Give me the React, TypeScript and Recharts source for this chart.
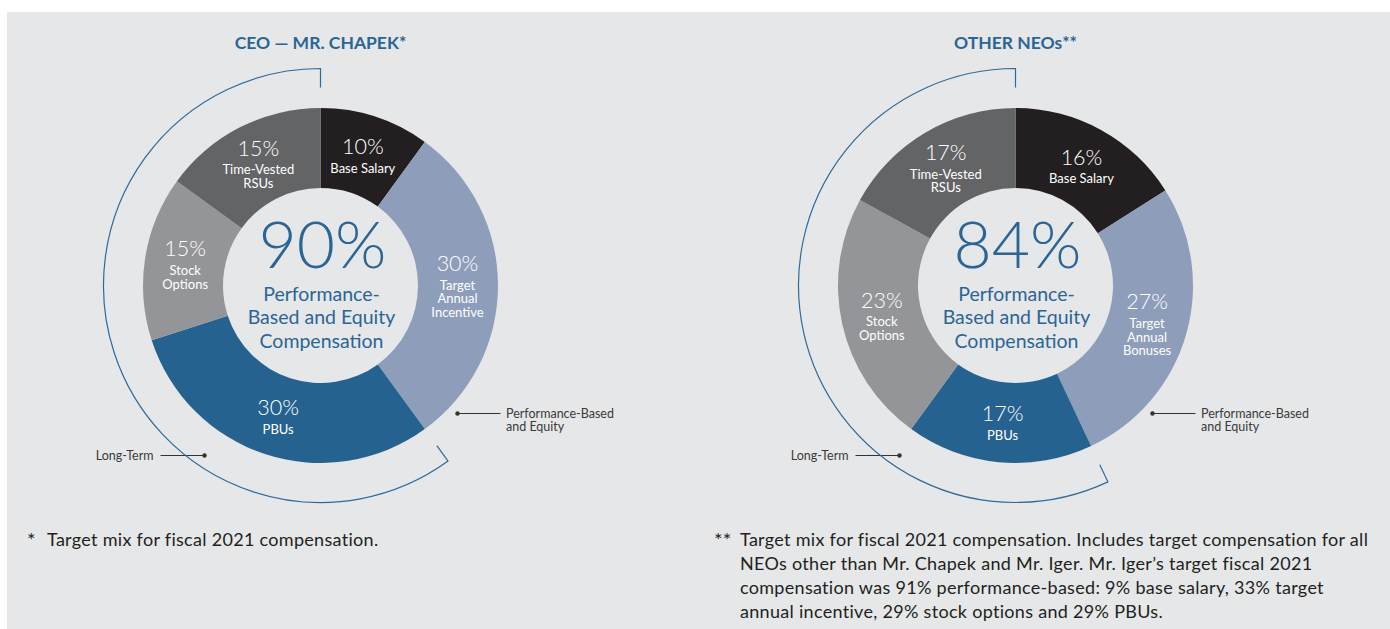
import React from 'react';
import { PieChart, Pie, Cell } from 'recharts';

// slice order runs clockwise from 12 o'clock
const segmentNames = ['Base Salary', 'Target Annual Incentive', 'PBUs', 'Stock Options', 'Time-Vested RSUs'];
const segmentColors = ['#231f20', '#8d9dba', '#25628f', '#939598', '#636466'];

const ceoValues = [10, 30, 30, 15, 15];
const ceoLabels = [['Base Salary'], ['Target', 'Annual', 'Incentive'], ['PBUs'], ['Stock', 'Options'], ['Time-Vested', 'RSUs']];
const ceoLongTerm = [60, 40]; // long-term equity vs rest
const ceoHeadline = '90%';

const neoValues = [16, 27, 17, 23, 17];
const neoLabels = [['Base Salary'], ['Target', 'Annual', 'Bonuses'], ['PBUs'], ['Stock', 'Options'], ['Time-Vested', 'RSUs']];
const neoLongTerm = [57, 43];
const neoHeadline = '84%';

const centerLines = ['Performance-', 'Based and Equity', 'Compensation'];

const neoFootnote = [
  'Target mix for fiscal 2021 compensation. Includes target compensation for all',
  'NEOs other than Mr. Chapek and Mr. Iger. Mr. Iger\u2019s target fiscal 2021',
  'compensation was 91% performance-based: 9% base salary, 33% target',
  'annual incentive, 29% stock options and 29% PBUs.',
];

const FONT = 'Lato, "Noto Sans", sans-serif';
const BLUE = '#2b6596';
const RAD = Math.PI / 180;
const CX = 320.5;
const CY = 285.5;

const sliceLabel = (lines: string[][]) => (props: any) => {
  const { cx, cy, midAngle, index, value } = props;
  const r = 137;
  const x = cx + r * Math.cos(-midAngle * RAD);
  const y = cy + r * Math.sin(-midAngle * RAD);
  const sub = lines[index] || [];
  const h = 39.7 + (sub.length - 1) * 13.6;
  const top = y - h / 2;
  return (
    <g key={`lbl-${index}`}>
      <text x={x} y={top + 11} textAnchor="middle" dominantBaseline="central" fill="#ffffff" fontSize={21.5} fontWeight={300} fontFamily={FONT}>
        {value}%
      </text>
      {sub.map((s, i) => (
        <text key={i} x={x} y={top + 32.7 + i * 13.6} textAnchor="middle" dominantBaseline="central" fill="#ffffff" fontSize={13} fontFamily={FONT}>
          {s}
        </text>
      ))}
    </g>
  );
};

const longTermArc = (props: any) => {
  const { cx, cy, startAngle, endAngle, innerRadius, outerRadius, index } = props;
  if (index !== 0) return <g key="arc-empty" />;
  const pt = (r: number, a: number) => [cx + r * Math.cos(a * RAD), cy - r * Math.sin(a * RAD)];
  const [x0, y0] = pt(innerRadius, startAngle);
  const [x1, y1] = pt(outerRadius, startAngle);
  const [x2, y2] = pt(outerRadius, endAngle);
  const [x3, y3] = pt(innerRadius, endAngle);
  const large = Math.abs(endAngle - startAngle) > 180 ? 1 : 0;
  const d = `M${x0},${y0} L${x1},${y1} A${outerRadius},${outerRadius} 0 ${large} 0 ${x2},${y2} L${x3},${y3}`;
  return <path key="arc" d={d} fill="none" stroke="#2f6a99" strokeWidth={1.2} />;
};

interface DonutProps {
  title: string;
  values: number[];
  labels: string[][];
  longTerm: number[];
  headline: string;
  left: number;
}

const Donut: React.FC<DonutProps> = ({ title, values, labels, longTerm, headline, left }) => {
  const data = segmentNames.map((name, i) => ({ name, value: values[i] }));
  const ltData = longTerm.map((value, i) => ({ name: i === 0 ? 'Long-Term' : 'Other', value }));

  return (
    <div style={{ position: 'absolute', left, top: 0 }}>
      <PieChart width={695} height={520} margin={{ top: 0, right: 0, bottom: 0, left: 0 }}>
        <Pie
          data={ltData}
          dataKey="value"
          cx={CX}
          cy={CY}
          startAngle={90}
          endAngle={450}
          innerRadius={198}
          outerRadius={217}
          stroke="none"
          label={longTermArc}
          labelLine={false}
          isAnimationActive={false}
        >
          {ltData.map((_, i) => (
            <Cell key={`lt-${i}`} fill="none" stroke="none" />
          ))}
        </Pie>
        <Pie
          data={data}
          dataKey="value"
          cx={CX}
          cy={CY}
          startAngle={90}
          endAngle={-270}
          innerRadius={97.5}
          outerRadius={177.5}
          stroke="none"
          label={sliceLabel(labels)}
          labelLine={false}
          isAnimationActive={false}
        >
          {data.map((_, i) => (
            <Cell key={`cell-${i}`} fill={segmentColors[i]} />
          ))}
        </Pie>

        <text x={CX} y={42} textAnchor="middle" dominantBaseline="central" fill={BLUE} fontSize={17.5} fontWeight={700} fontFamily={FONT}>
          {title}
        </text>

        <text x={CX + 2} y={CY - 43.5} textAnchor="middle" dominantBaseline="central" fill={BLUE} fontSize={66} fontWeight={300} fontFamily={FONT}>
          {headline}
        </text>
        {centerLines.map((s, i) => (
          <text key={s} x={CX + 1} y={CY + 7.5 + i * 23.5} textAnchor="middle" dominantBaseline="central" fill={BLUE} fontSize={19.5} fontFamily={FONT}>
            {s}
          </text>
        ))}

        {/* callouts */}
        <line x1={CX + 137} y1={CY + 128} x2={CX + 180} y2={CY + 128} stroke="#333" strokeWidth={1} />
        <circle cx={CX + 137} cy={CY + 128} r={2.2} fill="#333" />
        <text x={CX + 185.5} y={CY + 127.5} dominantBaseline="central" fill="#3a3a3a" fontSize={12.5} fontFamily={FONT}>
          Performance-Based
        </text>
        <text x={CX + 185.5} y={CY + 141.2} dominantBaseline="central" fill="#3a3a3a" fontSize={12.5} fontFamily={FONT}>
          and Equity
        </text>

        <line x1={CX - 160} y1={CY + 170} x2={CX - 116} y2={CY + 170} stroke="#333" strokeWidth={1} />
        <circle cx={CX - 116} cy={CY + 170} r={2.2} fill="#333" />
        <text x={CX - 167} y={CY + 170} textAnchor="end" dominantBaseline="central" fill="#3a3a3a" fontSize={12.5} fontFamily={FONT}>
          Long-Term
        </text>
      </PieChart>
    </div>
  );
};

const noteStyle: React.CSSProperties = {
  position: 'absolute',
  top: 527,
  fontSize: 18,
  lineHeight: '24px',
  letterSpacing: 0.3,
  color: '#231f20',
  whiteSpace: 'nowrap',
};

const App: React.FC = () => {
  return (
    <div style={{ position: 'absolute', left: 0, top: 0, width: 1390, height: 629, background: '#ffffff', fontFamily: FONT, overflow: 'hidden' }}>
      <div style={{ position: 'absolute', left: 7, top: 12, width: 1383, height: 617, background: '#e6e7e8' }} />

      <Donut title="CEO — MR. CHAPEK*" values={ceoValues} labels={ceoLabels} longTerm={ceoLongTerm} headline={ceoHeadline} left={0} />
      <Donut title="OTHER NEOs**" values={neoValues} labels={neoLabels} longTerm={neoLongTerm} headline={neoHeadline} left={695} />

      <div style={{ ...noteStyle, left: 27, fontSize: 20 }}>*</div>
      <div style={{ ...noteStyle, left: 47 }}>Target mix for fiscal 2021 compensation.</div>

      <div style={{ ...noteStyle, left: 714, fontSize: 20 }}>**</div>
      <div style={{ ...noteStyle, left: 740 }}>
        {neoFootnote.map((l) => (
          <div key={l}>{l}</div>
        ))}
      </div>
    </div>
  );
};

export default App;
